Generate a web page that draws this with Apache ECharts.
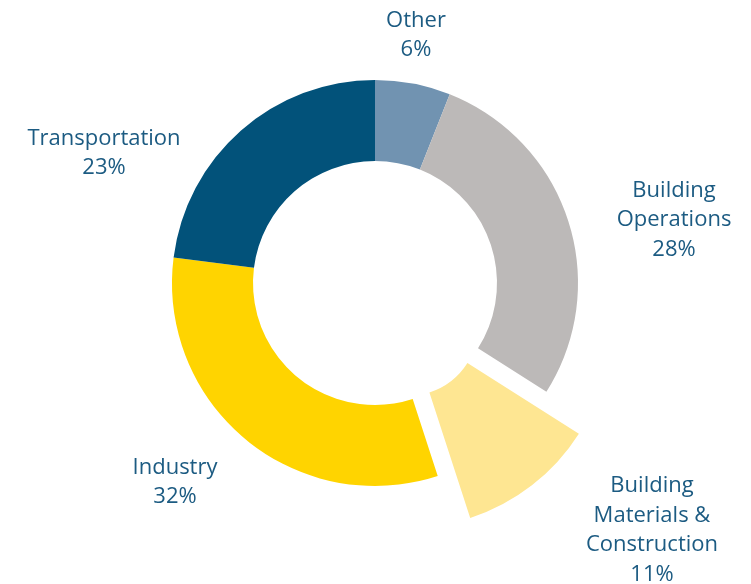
<!DOCTYPE html>
<html>
<head>
<meta charset="utf-8">
<script src="https://cdn.jsdelivr.net/npm/echarts@6/dist/echarts.min.js"></script>
<style>
  html, body { margin: 0; padding: 0; background: #fff; }
  #main { width: 751px; height: 584px; }
</style>
</head>
<body>
<div id="main"></div>
<script>
// data
var categories = ['Other', 'Building Operations', 'Building Materials & Construction', 'Industry', 'Transportation'];
var labelTexts = ['Other', 'Building\nOperations', 'Building\nMaterials &\nConstruction', 'Industry', 'Transportation'];
var values = [6, 28, 11, 32, 23];
var colors = ['#7193b1', '#bcb9b8', '#fee692', '#ffd400', '#02527a'];
var exploded = 'Building Materials & Construction';

// where the label blocks sit (centre of each block)
var labelPos = [[416, 35], [674, 220], [652, 530], [175, 482], [104, 153]];

var chart = echarts.init(document.getElementById('main'));

var ringData = categories.map(function (c, i) {
    return {
        name: c,
        value: values[i],
        itemStyle: { color: c === exploded ? 'rgba(0,0,0,0)' : colors[i] }
    };
});

// second ring only draws the pulled-out slice
var explodedData = categories.map(function (c, i) {
    return {
        name: c,
        value: values[i],
        selected: c === exploded,
        itemStyle: { color: c === exploded ? colors[i] : 'rgba(0,0,0,0)' }
    };
});

chart.setOption({
    animation: false,
    textStyle: { fontFamily: 'Open Sans' },
    series: [
        {
            type: 'pie',
            center: [375, 283],
            radius: [122, 203],
            startAngle: 90,
            clockwise: true,
            silent: true,
            z: 2,
            data: ringData,
            label: {
                show: true,
                position: 'outside',
                color: '#1c5b82',
                fontSize: 22,
                lineHeight: 29.5,
                fontFamily: 'Open Sans',
                formatter: function (p) {
                    return labelTexts[p.dataIndex] + '\n' + p.value + '%';
                }
            },
            labelLine: { show: false },
            labelLayout: function (p) {
                var pos = labelPos[p.dataIndex];
                return { x: pos[0], y: pos[1], align: 'center', verticalAlign: 'middle' };
            }
        },
        {
            type: 'pie',
            center: [375, 283],
            radius: [71, 203],
            startAngle: 90,
            clockwise: true,
            silent: true,
            selectedMode: 'single',
            selectedOffset: 53,
            z: 1,
            data: explodedData,
            label: { show: false },
            labelLine: { show: false }
        }
    ]
});
</script>
</body>
</html>
